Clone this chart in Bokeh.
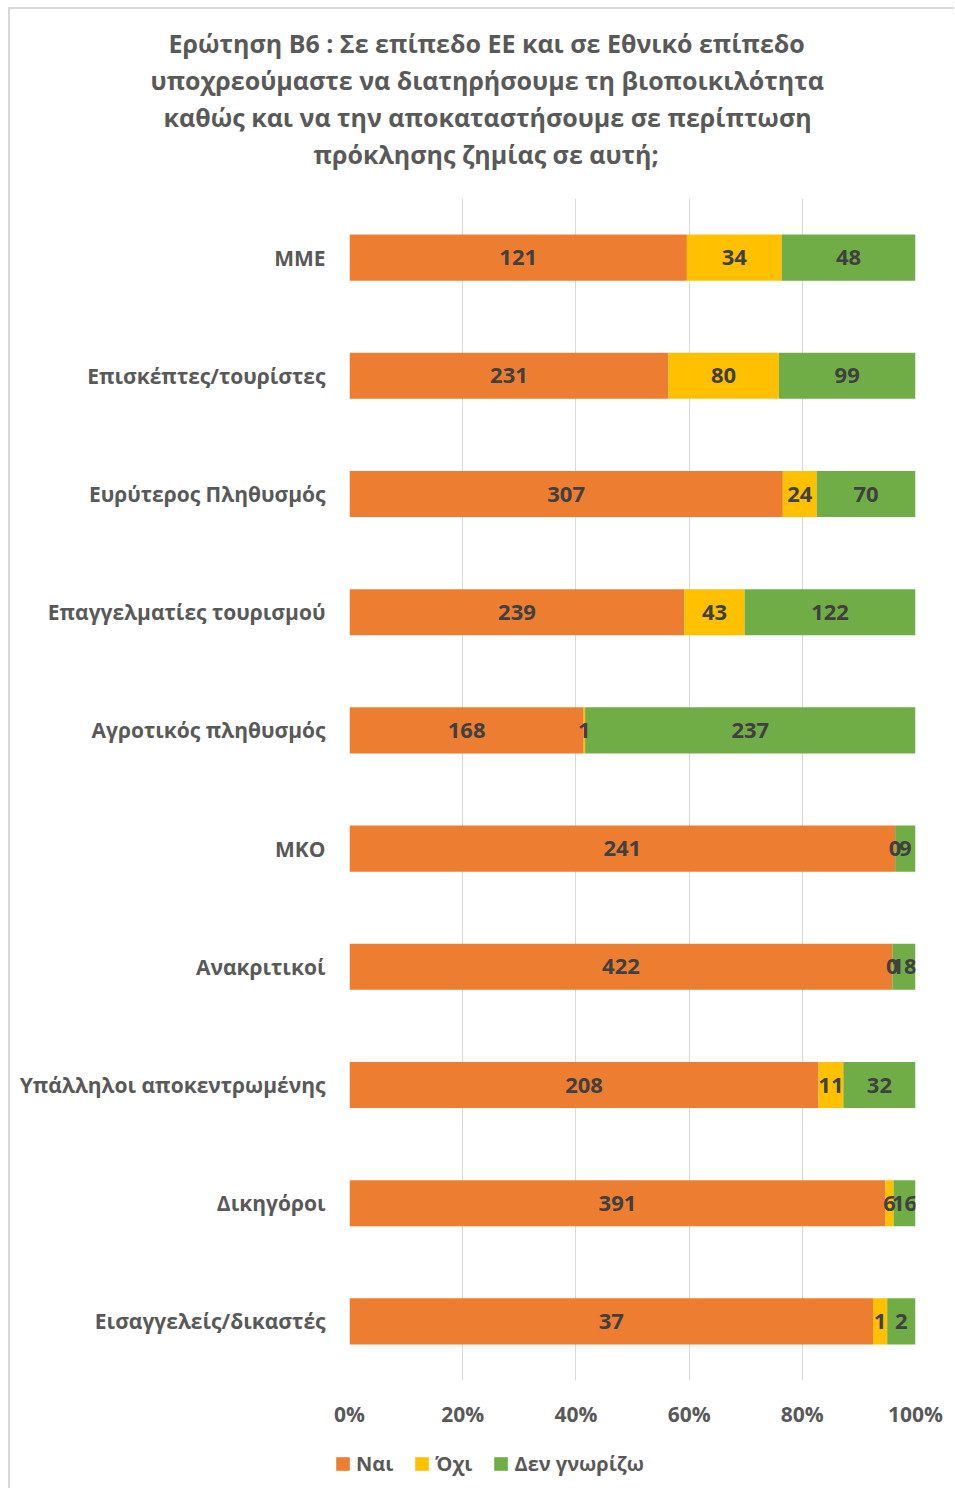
import pandas as pd
from bokeh.plotting import figure
from bokeh.layouts import column, row
from bokeh.models import (ColumnDataSource, Legend, LegendItem, Title,
                          NumeralTickFormatter, FixedTicker, FactorRange, Range1d)
from bokeh.core.properties import value
from bokeh.embed import file_html
from bokeh.resources import INLINE

# ---- data ----
categories = ["ΜΜΕ", "Επισκέπτες/τουρίστες", "Ευρύτερος Πληθυσμός",
              "Επαγγελματίες τουρισμού", "Αγροτικός πληθυσμός", "ΜΚΟ",
              "Ανακριτικοί", "Υπάλληλοι αποκεντρωμένης", "Δικηγόροι",
              "Εισαγγελείς/δικαστές"]
nai = [121, 231, 307, 239, 168, 241, 422, 208, 391, 37]
oxi = [34, 80, 24, 43, 1, 0, 0, 11, 6, 1]
den = [48, 99, 70, 122, 237, 9, 18, 32, 16, 2]
series_names = ["Ναι", "Όχι", "Δεν γνωρίζω"]
tick_values = [0, 0.2, 0.4, 0.6, 0.8, 1.0]
title_lines = ["Ερώτηση Β6 : Σε επίπεδο ΕΕ και σε Εθνικό επίπεδο",
               "υποχρεούμαστε να διατηρήσουμε τη βιοποικιλότητα",
               "καθώς και να την αποκαταστήσουμε σε περίπτωση",
               "πρόκλησης ζημίας σε αυτή;"]

colors = ["#ED7D31", "#FFC000", "#70AD47"]
FONT = "Open Sans"

W, H = 944, 1427
FL, FT, FW, FH = 339, 189, 566, 1182
LH = 52

df = pd.DataFrame({"cat": categories, "nai": nai, "oxi": oxi, "den": den})
tot = df["nai"] + df["oxi"] + df["den"]
df["nai_p"] = df["nai"] / tot
df["oxi_p"] = df["oxi"] / tot
df["den_p"] = df["den"] / tot
src = ColumnDataSource(df)

p = figure(width=W, height=H, output_backend="svg", toolbar_location=None,
           x_range=Range1d(0, 1), y_range=FactorRange(*reversed(categories)),
           min_border_left=FL, min_border_right=W - FL - FW, min_border_top=FT,
           min_border_bottom=H - FT - FH)
p.outline_line_color = None

rs = p.hbar_stack(["nai_p", "oxi_p", "den_p"], y="cat", height=0.39,
                  color=colors, line_color=None, source=src)

lab_x, lab_y, lab_t = [], [], []
for i, c in enumerate(categories):
    left = 0.0
    for col in ["nai", "oxi", "den"]:
        w = df.loc[i, col + "_p"]
        lab_x.append(left + w / 2)
        lab_y.append(c)
        lab_t.append(str(df.loc[i, col]))
        left += w
lsrc = ColumnDataSource(dict(x=lab_x, y=lab_y, t=lab_t))
p.text(x="x", y="y", text="t", source=lsrc, text_align="center",
       text_baseline="middle", text_font=value(FONT), text_font_style="bold",
       text_font_size="22px", text_color="#404040")

p.xaxis.ticker = FixedTicker(ticks=tick_values)
p.xaxis.formatter = NumeralTickFormatter(format="0%")
for ax in (p.xaxis[0], p.yaxis[0]):
    ax.axis_line_color = None
    ax.major_tick_line_color = None
    ax.minor_tick_line_color = None
    ax.major_label_text_font = FONT
    ax.major_label_text_font_style = "bold"
    ax.major_label_text_color = "#595959"
p.xaxis.major_label_text_font_size = "21px"
p.yaxis.major_label_text_font_size = "21px"
p.xaxis.major_label_standoff = 13
p.yaxis.major_label_standoff = 18
p.xgrid.ticker = FixedTicker(ticks=tick_values)
p.xgrid.grid_line_color = "#d9d9d9"
p.ygrid.grid_line_color = None

# spacer between title block and plot frame (nearest to the frame)
p.add_layout(Title(text=" ", standoff=24, text_font_size="1px"), "above")
# title lines (added nearest-first)
title_offsets = [-181, -199, -186, -36]
for line, off in reversed(list(zip(title_lines, title_offsets))):
    p.add_layout(Title(text=line, align="left", offset=off, standoff=1,
                       text_font=FONT, text_font_style="bold",
                       text_font_size="25px", text_color="#595959"), "above")

# ---- legend strip ----
lf = figure(width=W, height=LH, output_backend="svg", toolbar_location=None,
            x_range=Range1d(0, 1), y_range=Range1d(0, 1),
            min_border_left=FL - 15, min_border_right=W - FL - FW,
            min_border_top=0, min_border_bottom=0,
            x_axis_type=None, y_axis_type=None)
lf.outline_line_color = None
lf.xgrid.visible = False
lf.ygrid.visible = False
# legend-only glyphs, kept outside the visible range
lrs = [lf.hbar(y=[-5], left=[0], right=[0], height=0.5, color=c, line_color=None)
       for c in colors]
legend = Legend(items=[LegendItem(label=n, renderers=[r]) for n, r in zip(series_names, lrs)],
                orientation="horizontal", location=(0, 11),
                background_fill_alpha=0, border_line_alpha=0, padding=0, margin=0,
                spacing=20, glyph_width=17, glyph_height=17, label_standoff=5,
                label_text_font=FONT, label_text_font_style="bold",
                label_text_font_size="20px", label_text_color="#595959")
lf.add_layout(legend, "center")

layout = column(p, row(lf, spacing=0), spacing=0, margin=(7, 0, 0, 8))
layout.styles = {"border-top": "2px solid #d9d9d9", "border-left": "2px solid #d9d9d9"}

open("out.html", "w").write(file_html(layout, INLINE))
